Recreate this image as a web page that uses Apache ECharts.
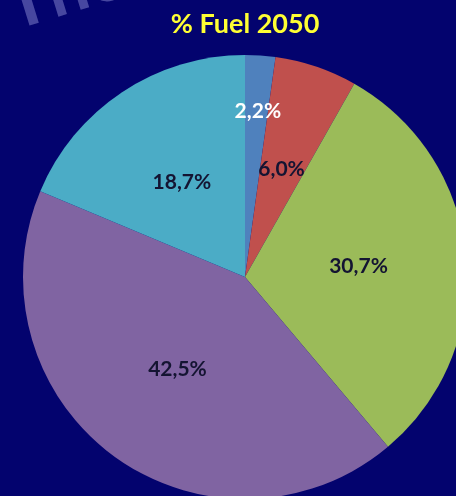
<!DOCTYPE html>
<html>
<head>
<meta charset="utf-8">
<script src="https://cdn.jsdelivr.net/npm/echarts@6/dist/echarts.min.js"></script>
<style>
  html, body { margin: 0; padding: 0; background: #03036e; }
  #chart { width: 456px; height: 496px; }
</style>
</head>
<body>
<div id="chart"></div>
<script>
// Fuel mix shares for 2050 (percent), clockwise from 12 o'clock
const fuelNames = ['Fuel A', 'Fuel B', 'Fuel C', 'Fuel D', 'Fuel E'];
const fuelShares = [2.2, 6.0, 30.7, 42.5, 18.7];
const sliceColors = ['#4f81bd', '#c0504d', '#9bbb59', '#8064a2', '#4bacc6'];
const labelColors = ['#ffffff', '#141432', '#141432', '#141432', '#141432'];

const chart = echarts.init(document.getElementById('chart'), null, { renderer: 'canvas' });

const pieData = fuelShares.map((v, i) => ({
  name: fuelNames[i],
  value: v,
  itemStyle: { color: sliceColors[i] },
  label: { color: labelColors[i] }
}));

chart.setOption({
  backgroundColor: '#03036e',
  animation: false,
  title: {
    text: '% Fuel 2050',
    left: 240,
    textAlign: 'center',
    top: 6,
    textStyle: {
      color: '#ffff33',
      fontFamily: 'Lato',
      fontWeight: 'bold',
      fontSize: 27
    }
  },
  graphic: [{
    type: 'text',
    left: -4,
    top: -62,
    rotation: 0.3,
    style: {
      text: 'The',
      fill: 'rgba(140,140,210,0.5)',
      font: 'bold 72px Lato'
    },
    silent: true,
    z: 0
  }],
  series: [{
    type: 'pie',
    center: [245, 277],
    radius: [0, 222],
    startAngle: 90,
    clockwise: true,
    silent: true,
    data: pieData,
    label: {
      show: true,
      position: 'inside',
      formatter: p => p.value.toFixed(1).replace('.', ',') + '%',
      fontFamily: 'Lato',
      fontWeight: 'bold',
      fontSize: 21
    },
    labelLine: { show: false },
    labelLayout: function (params) {
      // the thin first slice carries its label further out
      if (params.dataIndex === 0) {
        return { dx: 5, dy: -52 };
      }
      return {};
    }
  }]
});
</script>
</body>
</html>
